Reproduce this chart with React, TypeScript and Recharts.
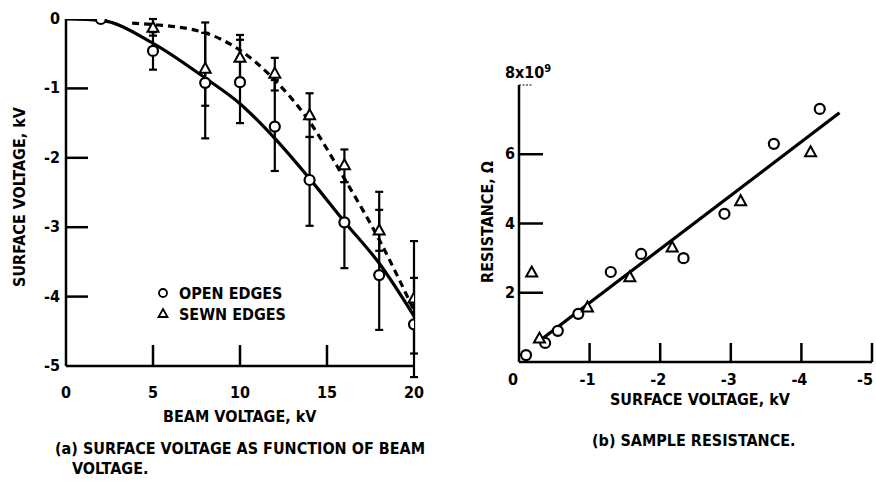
import React from "react";
import { ComposedChart, Line, Scatter, XAxis, YAxis, ErrorBar, Legend, ReferenceLine } from "recharts";

const FONT = "'DejaVu Sans Condensed', 'Liberation Sans Narrow', 'DejaVu Sans', sans-serif";

// (a) surface voltage vs beam voltage
const beamTicks = [0, 5, 10, 15, 20];
const surfTicks = [0, -1, -2, -3, -4, -5];

const openBeam = [2, 5, 8, 10, 12, 14, 16, 18, 20];
const openSurf = [0, -0.46, -0.92, -0.91, -1.55, -2.32, -2.93, -3.69, -4.4];
const openErr = [null, [0.27, 0.27], [0.8, 0.72], [0.59, 0.61], [0.64, 0.67], [0.66, 0.62], [0.66, 0.58], [0.79, 0.94], [0.76, 0.67]];

const sewnBeam = [5, 8, 10, 12, 14, 16, 18, 20];
const sewnSurf = [-0.12, -0.71, -0.55, -0.78, -1.38, -2.1, -3.04, -4.02];
const sewnErr = [[0.12, 0.12], [0.54, 0.66], [0.3, 0.32], [0.25, 0.22], [0.32, 0.31], [0.25, 0.22], [0.3, 0.55], [0.8, 0.82]];

// hand-drawn fit curves
const openFitBeam = [0, 2, 5, 8, 10, 12, 14, 16, 18, 20];
const openFitSurf = [0, -0.02, -0.35, -0.85, -1.22, -1.72, -2.3, -2.92, -3.52, -4.28];
const sewnFitBeam = [3.8, 5, 8, 10, 12, 14, 16, 18, 20];
const sewnFitSurf = [-0.06, -0.08, -0.2, -0.45, -0.88, -1.48, -2.3, -3.18, -4.2];

// (b) sample resistance vs surface voltage (x10^9 ohm)
const voltTicks = [0, -1, -2, -3, -4, -5];
const resTicks = [0, 2, 4, 6, 8];

const openVolt = [-0.1, -0.37, -0.55, -0.84, -1.3, -1.73, -2.33, -2.91, -3.61, -4.26];
const openRes = [0.2, 0.55, 0.9, 1.39, 2.6, 3.12, 3.0, 4.28, 6.3, 7.31];
const sewnVolt = [-0.18, -0.29, -0.97, -1.57, -2.17, -3.14, -4.13];
const sewnRes = [2.6, 0.69, 1.59, 2.46, 3.32, 4.66, 6.07];
const fitVolt = [-0.31, -4.54];
const fitRes = [0.64, 7.2];

const legendLabels = ["OPEN EDGES", "SEWN EDGES"];

const zip = (xs: number[], ys: number[], errs?: any[]) =>
  xs.map((x, i) => ({ x, y: ys[i], err: errs ? errs[i] : undefined }));

const openData = zip(openBeam, openSurf, openErr);
const sewnData = zip(sewnBeam, sewnSurf, sewnErr);
const openFit = zip(openFitBeam, openFitSurf);
const sewnFit = zip(sewnFitBeam, sewnFitSurf);
const openResData = zip(openVolt, openRes);
const sewnResData = zip(sewnVolt, sewnRes);
const resFit = zip(fitVolt, fitRes);

const txt = { fontFamily: FONT, fontWeight: 700, fontSize: 16, fill: "#000", stroke: "none" };
const axisLine = { stroke: "#000", strokeWidth: 2.5 };

const Circle = (p: any) => (
  <circle cx={p.cx} cy={p.cy} r={5} fill="#fff" stroke="#000" strokeWidth={2.2} />
);
const Triangle = (p: any) => (
  <polygon
    points={`${p.cx},${p.cy - 5.5} ${p.cx + 5.5},${p.cy + 4.5} ${p.cx - 5.5},${p.cy + 4.5}`}
    fill="#fff"
    stroke="#000"
    strokeWidth={2}
  />
);

// short inward tick mark starting at the y axis
const tickMark = (len: number, dash?: string) => (p: any) => {
  const x0 = Math.min(Number(p.x1), Number(p.x2));
  return (
    <line
      x1={x0}
      x2={x0 + len}
      y1={p.y1}
      y2={p.y1}
      stroke="#000"
      strokeWidth={dash ? 1.2 : 2.5}
      strokeDasharray={dash}
    />
  );
};

const LeftYTick = ({ x, y, payload }: any) => (
  <text x={x - 6} y={y} dy={5} textAnchor="end" {...txt}>{payload.value}</text>
);

const LeftXTick = ({ x, y, payload }: any) => (
  <g>
    {payload.value > 0 && payload.value < 20 && (
      <rect x={x - 1.25} y={y - 21} width={2.5} height={21} fill="#000" />
    )}
    <text x={x} y={y + 32} textAnchor="middle" {...txt}>{payload.value}</text>
  </g>
);

const RightYTick = ({ x, y, payload }: any) => {
  const v = payload.value;
  if (v === 0) return <g />;
  if (v === 8)
    return (
      <text x={x + 9} y={y - 7} textAnchor="middle" {...txt}>
        8x10<tspan dy={-6} fontSize={11}>9</tspan>
      </text>
    );
  return <text x={x - 4} y={y} dy={5} textAnchor="end" {...txt}>{v}</text>;
};

const RightXTick = ({ x, y, payload }: any) => (
  <g>
    {payload.value < 0 && (
      <rect x={x - 1.25} y={y - 19} width={2.5} height={19} fill="#000" />
    )}
    <text
      x={payload.value === 0 ? x - 6 : payload.value === -5 ? x - 7 : x - 2}
      y={y + 23}
      textAnchor="middle"
      {...txt}
    >
      {payload.value}
    </text>
  </g>
);

const LegendBox = () => (
  <svg width={160} height={46}>
    <circle cx={8} cy={11} r={4} fill="#fff" stroke="#000" strokeWidth={1.8} />
    <polygon points="8,27 12.5,35 3.5,35" fill="#fff" stroke="#000" strokeWidth={1.8} />
    <text x={24} y={17} {...txt}>{legendLabels[0]}</text>
    <text x={24} y={38} {...txt}>{legendLabels[1]}</text>
  </svg>
);

const label = (style: React.CSSProperties, text: React.ReactNode) => (
  <div
    style={{
      position: "absolute",
      fontFamily: FONT,
      fontWeight: 700,
      fontSize: 16,
      lineHeight: "18px",
      color: "#000",
      whiteSpace: "nowrap",
      ...style,
    }}
  >
    {text}
  </div>
);

export default function App() {
  return (
    <div style={{ position: "absolute", left: 0, top: 0, width: 876, height: 486, background: "#fff", overflow: "hidden" }}>
      <div style={{ position: "absolute", left: 0, top: 0 }}>
        <ComposedChart width={440} height={486} margin={{ top: 19, right: 26, left: 6, bottom: 90 }}>
          <XAxis
            type="number"
            dataKey="x"
            domain={[0, 20]}
            ticks={beamTicks}
            allowDataOverflow
            height={30}
            tickSize={0}
            tickMargin={0}
            tickLine={false}
            axisLine={axisLine}
            tick={<LeftXTick />}
            interval={0}
          />
          <YAxis
            type="number"
            dataKey="y"
            domain={[-5, 0]}
            ticks={surfTicks}
            allowDataOverflow
            width={60}
            tickSize={0}
            tickMargin={0}
            tickLine={false}
            axisLine={axisLine}
            tick={<LeftYTick />}
            interval={0}
          />
          <Line data={openFit} dataKey="y" type="monotone" stroke="#000" strokeWidth={3.2} dot={false} isAnimationActive={false} />
          <Line data={sewnFit} dataKey="y" type="monotone" stroke="#000" strokeWidth={3.2} strokeDasharray="7 5" dot={false} isAnimationActive={false} />
          <Scatter data={sewnData} dataKey="y" shape={Triangle} isAnimationActive={false}>
            <ErrorBar dataKey="err" direction="y" width={4} stroke="#000" strokeWidth={2.2} />
          </Scatter>
          <Scatter data={openData} dataKey="y" shape={Circle} isAnimationActive={false}>
            <ErrorBar dataKey="err" direction="y" width={4} stroke="#000" strokeWidth={2.2} />
          </Scatter>
          {surfTicks
            .filter((v) => v < 0 && v > -5)
            .map((v) => (
              <ReferenceLine key={v} y={v} shape={tickMark(22)} />
            ))}
          <Legend
            layout="vertical"
            align="center"
            verticalAlign="middle"
            content={<LegendBox />}
            wrapperStyle={{ left: 155, top: 282, width: 160 }}
          />
        </ComposedChart>
      </div>

      <div style={{ position: "absolute", left: 470, top: 0 }}>
        <ComposedChart width={406} height={486} margin={{ top: 85, right: 4, left: 9, bottom: 94 }}>
          <XAxis
            type="number"
            dataKey="x"
            domain={[-5, 0]}
            reversed
            ticks={voltTicks}
            allowDataOverflow
            height={30}
            tickSize={0}
            tickMargin={0}
            tickLine={false}
            axisLine={axisLine}
            tick={<RightXTick />}
            interval={0}
          />
          <YAxis
            type="number"
            dataKey="y"
            domain={[0, 8]}
            ticks={resTicks}
            allowDataOverflow
            width={40}
            tickSize={0}
            tickMargin={0}
            tickLine={false}
            axisLine={axisLine}
            tick={<RightYTick />}
            interval={0}
          />
          <Line data={resFit} dataKey="y" type="linear" stroke="#000" strokeWidth={3.2} dot={false} isAnimationActive={false} />
          <Scatter data={openResData} dataKey="y" shape={Circle} isAnimationActive={false} />
          <Scatter data={sewnResData} dataKey="y" shape={Triangle} isAnimationActive={false} />
          {resTicks
            .filter((v) => v > 0)
            .map((v) => (
              <ReferenceLine key={v} y={v} shape={v === 8 ? tickMark(14, "2 1.5") : tickMark(24)} />
            ))}
        </ComposedChart>
      </div>

      {label({ left: -100, top: 188, width: 240, textAlign: "center", transform: "rotate(-90deg)" }, "SURFACE VOLTAGE, kV")}
      {label({ left: 163, top: 408 }, "BEAM VOLTAGE, kV")}
      {label({ left: 55, top: 440 }, "(a) SURFACE VOLTAGE AS FUNCTION OF BEAM")}
      {label({ left: 72, top: 460 }, "VOLTAGE.")}

      {label({ left: 368, top: 213, width: 240, textAlign: "center", transform: "rotate(-90deg)" }, "RESISTANCE, \u03A9")}
      {label({ left: 610, top: 391 }, "SURFACE VOLTAGE, kV")}
      {label({ left: 592, top: 432 }, "(b) SAMPLE RESISTANCE.")}
    </div>
  );
}
